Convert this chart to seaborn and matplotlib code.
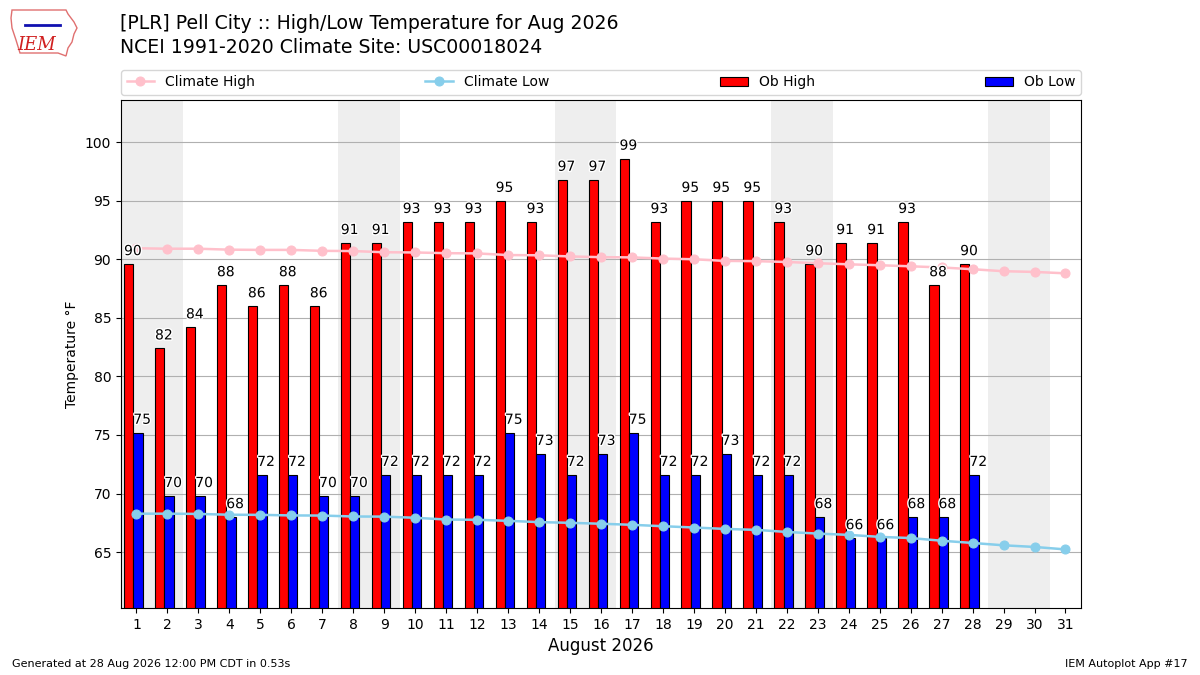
import matplotlib
matplotlib.use("Agg")
import matplotlib.pyplot as plt
import matplotlib.patheffects as pe
from matplotlib.patches import Polygon
import numpy as np
import pandas as pd
import seaborn as sns

# ---------------- data ----------------
days_all = list(range(1, 32))
ob_days = list(range(1, 29))
ob_high = [89.6, 82.4, 84.2, 87.8, 86.0, 87.8, 86.0, 91.4, 91.4, 93.2,
           93.2, 93.2, 95.0, 93.2, 96.8, 96.8, 98.6, 93.2, 95.0, 95.0,
           95.0, 93.2, 89.6, 91.4, 91.4, 93.2, 87.8, 89.6]
ob_low = [75.2, 69.8, 69.8, 68.0, 71.6, 71.6, 69.8, 69.8, 71.6, 71.6,
          71.6, 71.6, 75.2, 73.4, 71.6, 73.4, 75.2, 71.6, 71.6, 73.4,
          71.6, 71.6, 68.0, 66.2, 66.2, 68.0, 68.0, 71.6]
clim_high = [90.94, 90.9, 90.9, 90.82, 90.8, 90.8, 90.72, 90.7, 90.6, 90.58,
             90.52, 90.5, 90.36, 90.34, 90.24, 90.18, 90.16, 90.06, 90.0, 89.86,
             89.84, 89.77, 89.66, 89.57, 89.49, 89.4, 89.3, 89.15, 88.98, 88.92,
             88.8]
clim_low = [68.28, 68.28, 68.26, 68.19, 68.18, 68.13, 68.12, 68.04, 68.03, 67.93,
            67.78, 67.76, 67.67, 67.56, 67.5, 67.42, 67.33, 67.21, 67.1, 66.98,
            66.9, 66.72, 66.58, 66.47, 66.3, 66.2, 65.97, 65.78, 65.58, 65.44,
            65.23]
weekend_days = [1, 2, 8, 9, 15, 16, 22, 23, 29, 30]
y_ticks = [65, 70, 75, 80, 85, 90, 95, 100]

title1 = "[PLR] Pell City :: High/Low Temperature for Aug 2026"
title2 = "NCEI 1991-2020 Climate Site: USC00018024"

clim_df = pd.DataFrame({"day": days_all, "high": clim_high, "low": clim_low})

# ---------------- figure ----------------
plt.rcParams['font.family'] = ['DejaVu Sans']
fig = plt.figure(figsize=(12, 6.75), dpi=100)
ax = fig.add_axes([0.1008, 0.0993, 0.8, 0.7526])

for d in weekend_days:
    ax.axvspan(d - 0.5, d + 0.5, color="#eeeeee", zorder=0, lw=0)

ax.set_axisbelow(True)
ax.grid(axis="y", color="#b0b0b0", lw=0.8, zorder=0.5)

x = np.array(ob_days, dtype=float)
ax.bar(x - 0.4, ob_high, width=0.3, align="edge", color="red",
       edgecolor="black", lw=0.8, label="Ob High", zorder=2)
ax.bar(x - 0.1, ob_low, width=0.3, align="edge", color="blue",
       edgecolor="black", lw=0.8, label="Ob Low", zorder=2)

sns.lineplot(data=clim_df, x="day", y="high", ax=ax, color="pink",
             marker="o", markersize=6.5, markeredgecolor="pink", lw=1.8,
             label="Climate High", zorder=3)
sns.lineplot(data=clim_df, x="day", y="low", ax=ax, color="skyblue",
             marker="o", markersize=6.5, markeredgecolor="skyblue", lw=1.8,
             label="Climate Low", zorder=3)

stroke = [pe.withStroke(linewidth=2, foreground="white")]
for xi, hv, lv in zip(x, ob_high, ob_low):
    ax.text(xi - 0.4, hv + 0.5, f"{hv:.0f}", ha="left", va="bottom",
            fontsize=10, zorder=4, path_effects=stroke)
    ax.text(xi - 0.1, lv + 0.5, f"{lv:.0f}", ha="left", va="bottom",
            fontsize=10, zorder=4, path_effects=stroke)

ymin = min(min(clim_low), min(ob_low)) - 5
ymax = max(max(clim_high), max(ob_high)) + 5
ax.set_ylim(ymin, ymax)
ax.set_xlim(0.5, 31.5)
ax.set_xticks(days_all)
ax.set_xticklabels([str(d) for d in days_all], fontsize=10)
ax.set_yticks(y_ticks)
ax.tick_params(axis="both", labelsize=10)
ax.set_xlabel("August 2026", fontsize=12)
ax.set_ylabel("Temperature °F", fontsize=10)

h, l = ax.get_legend_handles_labels()
order = [l.index(n) for n in ["Climate High", "Climate Low", "Ob High", "Ob Low"]]
ax.legend([h[i] for i in order], [l[i] for i in order],
          loc="lower left", bbox_to_anchor=(0, 1.01, 1, 0.05), mode="expand",
          ncol=4, borderaxespad=0, fontsize=10)

fig.text(0.1, 0.965, title1, fontsize=13.6, va="center")
fig.text(0.1, 0.929, title2, fontsize=13.6, va="center")

# simple IEM logo
outline = np.array([[12, 10], [66, 10], [68, 14], [74, 22], [77, 28], [74, 34],
                    [72, 42], [68, 48], [66, 56], [58, 53], [20, 53], [16, 40],
                    [12, 28], [11, 18]], dtype=float)
outline[:, 1] = 675 - outline[:, 1]
fig.add_artist(Polygon(outline / [1200, 675], closed=True, fill=False,
                       edgecolor="#e07070", lw=1.0, transform=fig.transFigure))
fig.add_artist(plt.Line2D([25 / 1200, 60 / 1200], [1 - 25 / 675, 1 - 25 / 675],
                          color="#1010b0", lw=2, transform=fig.transFigure))
fig.text(37 / 1200, 1 - 45 / 675, "IEM", color="#d02020", fontsize=13,
         style="italic", family="DejaVu Serif", ha="center", va="center")

fig.text(0.01, 0.016, "Generated at 28 Aug 2026 12:00 PM CDT in 0.53s",
         fontsize=8, va="center")
fig.text(0.99, 0.016, "IEM Autoplot App #17", fontsize=8, ha="right", va="center")

fig.savefig("out.png", dpi=100)
